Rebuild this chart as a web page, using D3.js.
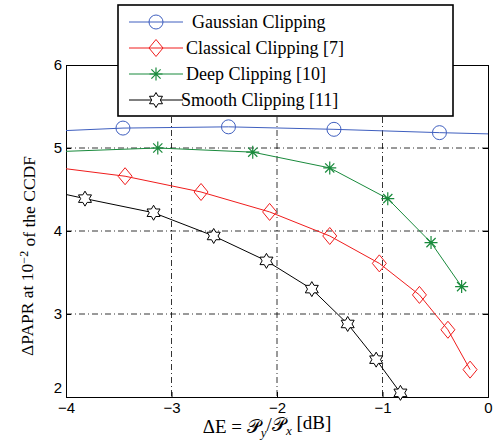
<!DOCTYPE html>
<html>
<head>
<meta charset="utf-8">
<script src="https://cdn.jsdelivr.net/npm/d3@7"></script>
<style>
  body { margin: 0; background: #fff; }
  .tick text { font-family: "Liberation Sans", Arial, sans-serif; font-size: 15px; fill: #000; }
  .serif { font-family: "Liberation Serif", "Times New Roman", serif; fill: #000; }
</style>
</head>
<body>
<div id="chart"></div>
<script>
var svgWidth = 496;
var svgHeight = 443;

var margin = { top: 65, right: 8, bottom: 46, left: 66 };
var width = svgWidth - margin.left - margin.right;
var height = svgHeight - margin.top - margin.bottom;

// data (first / last points carry no marker)
var gaussX = [-4, -3.46, -2.46, -1.46, -0.46, 0];
var gaussY = [5.21, 5.24, 5.255, 5.225, 5.185, 5.17];

var classicalX = [-4, -3.44, -2.72, -2.07, -1.50, -1.03, -0.65, -0.38, -0.17];
var classicalY = [4.75, 4.66, 4.47, 4.23, 3.94, 3.61, 3.23, 2.81, 2.33];

var deepX = [-4, -3.13, -2.23, -1.50, -0.95, -0.54, -0.25];
var deepY = [4.96, 5.00, 4.95, 4.76, 4.39, 3.86, 3.33];

var smoothX = [-4, -3.82, -3.17, -2.60, -2.10, -1.67, -1.33, -1.06, -0.83];
var smoothY = [4.44, 4.39, 4.22, 3.94, 3.64, 3.30, 2.88, 2.45, 2.05];

var xTicks = [-4, -3, -2, -1, 0];
var yTicks = [2, 3, 4, 5, 6];
var gridX = [-3, -2, -1];
var gridY = [3, 4, 5];

var legendLabels = ["Gaussian Clipping", "Classical Clipping [7]", "Deep Clipping [10]", "Smooth Clipping [11]"];

var series = [
  { name: legendLabels[0], xs: gaussX, ys: gaussY, color: "#3f5fbf", marker: "circle" },
  { name: legendLabels[1], xs: classicalX, ys: classicalY, color: "#f01c1c", marker: "diamond" },
  { name: legendLabels[2], xs: deepX, ys: deepY, color: "#198a3c", marker: "asterisk" },
  { name: legendLabels[3], xs: smoothX, ys: smoothY, color: "#000", marker: "hexagram" }
];

var svg = d3.select("#chart")
  .append("svg")
  .attr("width", svgWidth)
  .attr("height", svgHeight);

var chartGroup = svg.append("g")
  .attr("transform", `translate(${margin.left}, ${margin.top})`);

var xScale = d3.scaleLinear().domain([-4, 0]).range([0, width]);
var yScale = d3.scaleLinear().domain([2, 6]).range([height, 0]);

// grid
var dash = "6,3,1,3";
chartGroup.selectAll(".gx")
  .data(gridX)
  .enter()
  .append("line")
  .attr("x1", d => xScale(d)).attr("x2", d => xScale(d))
  .attr("y1", 0).attr("y2", height)
  .attr("stroke", "#000").attr("stroke-width", 0.8)
  .attr("stroke-dasharray", dash);

chartGroup.selectAll(".gy")
  .data(gridY)
  .enter()
  .append("line")
  .attr("y1", d => yScale(d)).attr("y2", d => yScale(d))
  .attr("x1", 0).attr("x2", width)
  .attr("stroke", "#000").attr("stroke-width", 0.8)
  .attr("stroke-dasharray", dash);

// axes, ticks inside like matlab
var fmt = d => d < 0 ? "\u2212" + Math.abs(d) : String(d);

var bottomAxis = d3.axisBottom(xScale).tickValues(xTicks).tickSize(-5).tickPadding(5).tickFormat(fmt);
var leftAxis = d3.axisLeft(yScale).tickValues(yTicks).tickSize(-5).tickPadding(4).tickFormat(fmt);

chartGroup.append("g")
  .attr("transform", `translate(0, ${height})`)
  .call(bottomAxis);

var ly = chartGroup.append("g")
  .call(leftAxis);
ly.selectAll(".tick").filter(d => d === 2).select("text").attr("dy", "-0.3em");

chartGroup.append("g")
  .call(d3.axisTop(xScale).tickValues(xTicks).tickSize(-5).tickFormat(""));
chartGroup.append("g")
  .attr("transform", `translate(${width}, 0)`)
  .call(d3.axisRight(yScale).tickValues(yTicks).tickSize(-5).tickFormat(""));

chartGroup.selectAll(".domain").attr("stroke", "#000").attr("stroke-width", 1);
chartGroup.selectAll(".tick line").attr("stroke", "#000");

// markers
function drawMarker(g, type, color) {
  if (type === "circle") {
    g.append("circle").attr("r", 7).attr("fill", "none").attr("stroke", color).attr("stroke-width", 1);
  } else if (type === "diamond") {
    g.append("path").attr("d", "M0,-8.5L7,0L0,8.5L-7,0Z").attr("fill", "none").attr("stroke", color).attr("stroke-width", 1);
  } else if (type === "asterisk") {
    var r = 6.5, p = "";
    [0, 45, 90, 135].forEach(function(a) {
      var t = a * Math.PI / 180;
      p += `M${-r * Math.cos(t)},${-r * Math.sin(t)}L${r * Math.cos(t)},${r * Math.sin(t)}`;
    });
    g.append("path").attr("d", p).attr("stroke", color).attr("stroke-width", 1.2);
  } else {
    var ro = 7.5, ri = ro / Math.sqrt(3), pts = [];
    for (var i = 0; i < 12; i++) {
      var t = (i * 30 - 90) * Math.PI / 180;
      var rr = i % 2 === 0 ? ro : ri;
      pts.push([rr * Math.cos(t), rr * Math.sin(t)]);
    }
    g.append("path").attr("d", "M" + pts.join("L") + "Z").attr("fill", "#fff").attr("stroke", color).attr("stroke-width", 1);
  }
}

var line = d3.line().x(d => xScale(d.x)).y(d => yScale(d.y));

series.forEach(function(s) {
  var pts = s.xs.map((x, i) => ({ x: x, y: s.ys[i] }));
  chartGroup.append("path")
    .datum(pts)
    .attr("d", line)
    .attr("fill", "none")
    .attr("stroke", s.color)
    .attr("stroke-width", 1);

  chartGroup.selectAll(null)
    .data(pts.filter(d => d.x > -4 && d.x < 0))
    .enter()
    .append("g")
    .attr("transform", d => `translate(${xScale(d.x)}, ${yScale(d.y)})`)
    .each(function() { drawMarker(d3.select(this), s.marker, s.color); });
});

// legend
var legend = svg.append("g");
legend.append("rect")
  .attr("x", 118).attr("y", 5)
  .attr("width", 335).attr("height", 111)
  .attr("fill", "#fff").attr("stroke", "#000").attr("stroke-width", 1.6);

var textX = [192, 186, 186, 181];
series.forEach(function(s, i) {
  var cy = 22 + i * 26;
  legend.append("line")
    .attr("x1", 129).attr("x2", 183)
    .attr("y1", cy).attr("y2", cy)
    .attr("stroke", s.color).attr("stroke-width", 1);
  var mg = legend.append("g").attr("transform", `translate(156, ${cy})`);
  drawMarker(mg, s.marker, s.color);
  legend.append("text")
    .attr("class", "serif")
    .attr("x", textX[i])
    .attr("y", cy + 6)
    .style("font-size", "18px")
    .text(s.name);
});

// axis labels
var yl = svg.append("text")
  .attr("class", "serif")
  .attr("transform", `translate(33, 256) rotate(-90)`)
  .style("text-anchor", "middle")
  .style("font-size", "17.5px");
yl.append("tspan").text("\u0394PAPR at 10");
yl.append("tspan").attr("dy", "-0.45em").style("font-size", "12px").text("\u22122");
yl.append("tspan").attr("dy", "0.45em").text("  of the CCDF");

var xl = svg.append("text")
  .attr("class", "serif")
  .attr("x", 267)
  .attr("y", 433)
  .style("text-anchor", "middle")
  .style("font-size", "19px");
xl.append("tspan").text("\u0394E = \uD835\uDCAB");
xl.append("tspan").attr("dy", "0.3em").style("font-size", "13px").style("font-style", "italic").text("y");
xl.append("tspan").attr("dy", "-0.3em").text("/\uD835\uDCAB");
xl.append("tspan").attr("dy", "0.3em").style("font-size", "13px").style("font-style", "italic").text("x");
xl.append("tspan").attr("dy", "-0.3em").text(" [dB]");
</script>
</body>
</html>
